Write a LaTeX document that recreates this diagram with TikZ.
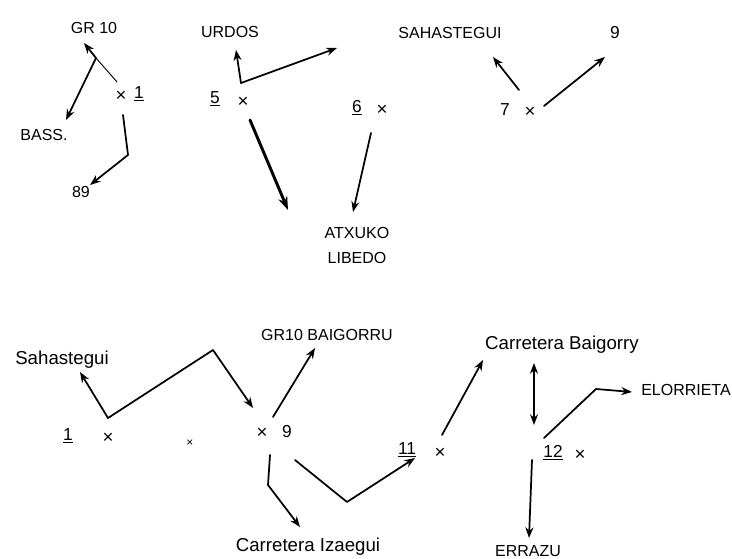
\documentclass[tikz,border=0pt]{standalone}
\usepackage{fontspec}
\setmainfont{Liberation Sans}
\usetikzlibrary{arrows.meta}
\begin{document}
\begin{tikzpicture}[x=0.75pt,y=-0.75pt,
  lbl/.style={inner sep=0pt,font=\fontsize{12}{14}\selectfont},
  big/.style={inner sep=0pt,font=\fontsize{14}{16}\selectfont},
  num/.style={inner sep=0pt,font=\fontsize{13}{15}\selectfont},
  mk/.style={inner sep=0pt,font=\fontsize{14}{16}\selectfont},
  ln/.style={line width=1.3pt,line join=round,line cap=round},
  arr/.style={ln,-{Stealth[length=8pt,width=6pt]}},
  darr/.style={ln,{Stealth[length=8pt,width=6pt]}-{Stealth[length=8pt,width=6pt]}},
  thickarr/.style={line width=2.2pt,line cap=round,-{Stealth[length=10pt,width=7pt]}}]
\useasboundingbox (0,0) rectangle (732,559);
% ---------- top left ----------
\node[lbl] (gr10) at (94,28) {GR 10};
\node[mk] (x1) at (121,96) {×};
\node[num] (n1) at (139,94) {\underline{1}};
\node[lbl] (bass) at (44,135) {BASS.};
\node[lbl] (n89) at (81,192) {89};
\coordinate (a1) at (117,82);
\coordinate (a2) at (96,58);
\coordinate (a3) at (84,43);
\coordinate (a4) at (66,120);
\draw[ln,line width=0.7pt] (a1) -- (a2);
\draw[arr] (a2) -- (a3);
\draw[arr] (a2) -- (a4);
\coordinate (b1) at (123,115);
\coordinate (b2) at (128,155);
\coordinate (b3) at (90,185);
\draw[arr] (b1) -- (b2) -- (b3);
% ---------- top middle ----------
\node[lbl] (urdos) at (230,32) {URDOS};
\node[num] (n5) at (215,99) {\underline{5}};
\node[mk] (x5) at (243,102) {×};
\coordinate (u0) at (241,83);
\coordinate (u1) at (236,50);
\coordinate (u2) at (337,48);
\draw[arr] (u0) -- (u1);
\draw[arr] (u0) -- (u2);
\coordinate (v0) at (250,120);
\coordinate (v1) at (288,210);
\draw[thickarr] (v0) -- (v1);
\node[num] (n6) at (357,108) {\underline{6}};
\node[mk] (x6) at (382,110) {×};
\coordinate (w0) at (371,133);
\coordinate (w1) at (353,212);
\draw[arr] (w0) -- (w1);
\node[lbl] (atx) at (357,233) {ATXUKO};
\node[lbl] (lib) at (357,258) {LIBEDO};
% ---------- top right ----------
\node[lbl] (sah1) at (450,33) {SAHASTEGUI};
\node[num] (n9a) at (615,33) {9};
\node[num] (n7) at (505,110) {7};
\node[mk] (x7) at (530,112) {×};
\coordinate (r0) at (519,90);
\coordinate (r1) at (493,57);
\coordinate (r2) at (544,106);
\coordinate (r3) at (605,57);
\draw[arr] (r0) -- (r1);
\draw[arr] (r2) -- (r3);
% ---------- bottom ----------
\node[big] (sah2) at (62,360) {Sahastegui};
\node[num] (b1n) at (68,436) {\underline{1}};
\node[mk] (bx1) at (108,438) {×};
\node[mk,font=\fontsize{9}{11}\selectfont] (bxs) at (190,443) {×};
\node[mk] (x9) at (262,433) {×};
\node[num] (n9) at (287,432) {9};
\coordinate (s0) at (108,418);
\coordinate (s1) at (80,372);
\coordinate (s2) at (213,350);
\coordinate (s3) at (253,408);
\draw[arr] (s0) -- (s1);
\draw[arr] (s0) -- (s2) -- (s3);
\node[lbl] (grb) at (327,335) {GR10 BAIGORRU};
\coordinate (g0) at (273,417);
\coordinate (g1) at (315,348);
\draw[arr] (g0) -- (g1);
\coordinate (c0) at (270,455);
\coordinate (c1) at (268,485);
\coordinate (c2) at (300,527);
\draw[arr] (c0) -- (c1) -- (c2);
\node[big] (cari) at (308,547) {Carretera Izaegui};
\coordinate (d0) at (295,460);
\coordinate (d1) at (347,502);
\coordinate (d2) at (415,458);
\draw[arr] (d0) -- (d1) -- (d2);
\node[num] (n11) at (407,450) {\underline{11}};
\node[mk] (x11) at (440,453) {×};
\coordinate (e0) at (442,435);
\coordinate (e1) at (483,360);
\draw[arr] (e0) -- (e1);
\node[big] (carb) at (562,345) {Carretera Baigorry};
\coordinate (k0) at (534,363);
\coordinate (k1) at (534,425);
\draw[darr] (k0) -- (k1);
\node[num] (n12) at (553,453) {\underline{12}};
\node[mk] (x12) at (580,455) {×};
\coordinate (f0) at (544,438);
\coordinate (f1) at (596,389);
\coordinate (f2) at (632,392);
\draw[arr] (f0) -- (f1) -- (f2);
\node[lbl] (elo) at (686,390) {ELORRIETA};
\coordinate (h0) at (532,460);
\coordinate (h1) at (529,538);
\draw[arr] (h0) -- (h1);
\node[lbl] (err) at (528,551) {ERRAZU};
\end{tikzpicture}
\end{document}
